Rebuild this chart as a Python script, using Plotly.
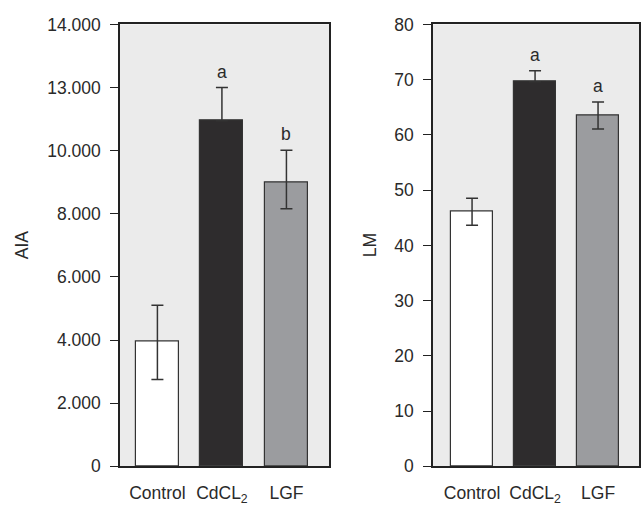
import plotly.graph_objects as go

categories = ["Control", "CdCL<sub>2</sub>", "LGF"]
aia_values = [3950, 10950, 8980]
aia_err_plus = [1150, 1050, 1030]
aia_err_minus = [1200, 0, 820]
aia_letters = ["", "a", "b"]
aia_tickvals = [0, 2000, 4000, 6000, 8000, 10000, 12000, 14000]
aia_ticktext = ["0", "2.000", "4.000", "6.000", "8.000", "10.000", "13.000", "14.000"]

lm_values = [46.1, 69.6, 63.5]
lm_err_plus = [2.45, 2.0, 2.45]
lm_err_minus = [2.45, 0, 2.45]
lm_letters = ["", "a", "a"]
lm_tickvals = [0, 10, 20, 30, 40, 50, 60, 70, 80]

bar_colors = ["#ffffff", "#2e2c2d", "#9b9c9f"]
FONT = "Liberation Sans, Arial, sans-serif"
TXT = "#2a2a2a"
FS = 17.5

fig = go.Figure()
xpos = [0, 1, 2]

fig.add_trace(go.Bar(
    x=xpos, y=aia_values, width=0.667,
    marker=dict(color=bar_colors, line=dict(color="#333333", width=1.2)),
    error_y=dict(type="data", symmetric=False, array=aia_err_plus, arrayminus=aia_err_minus,
                 visible=True, color="#333333", thickness=1.5, width=6),
    xaxis="x", yaxis="y", showlegend=False))

fig.add_trace(go.Bar(
    x=xpos, y=lm_values, width=0.67,
    marker=dict(color=bar_colors, line=dict(color="#333333", width=1.2)),
    error_y=dict(type="data", symmetric=False, array=lm_err_plus, arrayminus=lm_err_minus,
                 visible=True, color="#333333", thickness=1.5, width=6),
    xaxis="x2", yaxis="y2", showlegend=False))

annotations = []
for i, (v, e, t) in enumerate(zip(aia_values, aia_err_plus, aia_letters)):
    if t:
        annotations.append(dict(x=i, y=v + e, xref="x", yref="y", text=t, showarrow=False,
                                yanchor="bottom", yshift=4, font=dict(size=FS, color=TXT, family=FONT)))
for i, (v, e, t) in enumerate(zip(lm_values, lm_err_plus, lm_letters)):
    if t:
        annotations.append(dict(x=i, y=v + e, xref="x2", yref="y2", text=t, showarrow=False,
                                yanchor="bottom", yshift=4, font=dict(size=FS, color=TXT, family=FONT)))

annotations.append(dict(x=22 / 643, y=0.52, xref="paper", yref="paper", text="AIA", textangle=-90,
                        showarrow=False, xanchor="center", yanchor="middle",
                        font=dict(size=FS, color=TXT, family=FONT)))
annotations.append(dict(x=370 / 643, y=0.52, xref="paper", yref="paper", text="LM", textangle=-90,
                        showarrow=False, xanchor="center", yanchor="middle",
                        font=dict(size=FS, color=TXT, family=FONT)))

axis_common = dict(showline=True, linecolor="#222222", linewidth=1.5, mirror=True,
                   showgrid=False, zeroline=False, tickfont=dict(size=FS, color=TXT, family=FONT))

ydom = [1 - 475 / 510, 1 - 15 / 510]

fig.update_layout(
    width=643, height=510,
    margin=dict(l=0, r=0, t=0, b=0),
    paper_bgcolor="white", plot_bgcolor="#ebebeb",
    bargap=0,
    xaxis=dict(domain=[120 / 643, 329 / 643], range=[-0.58, 2.66], tickvals=xpos, ticktext=categories,
               ticks="", ticklabelstandoff=10, anchor="y", **axis_common),
    yaxis=dict(domain=ydom, range=[0, 14000], tickvals=aia_tickvals, ticktext=aia_ticktext,
               ticks="outside", ticklen=8, tickcolor="#222222", tickwidth=1.2,
               ticklabelstandoff=6, anchor="x", **axis_common),
    xaxis2=dict(domain=[433 / 643, 639 / 643], range=[-0.62, 2.65], tickvals=xpos, ticktext=categories,
                ticks="", ticklabelstandoff=10, anchor="y2", **axis_common),
    yaxis2=dict(domain=ydom, range=[0, 80], tickvals=lm_tickvals,
                ticks="outside", ticklen=8, tickcolor="#222222", tickwidth=1.2,
                ticklabelstandoff=6, anchor="x2", **axis_common),
    annotations=annotations,
)

fig.write_html("out.html")
